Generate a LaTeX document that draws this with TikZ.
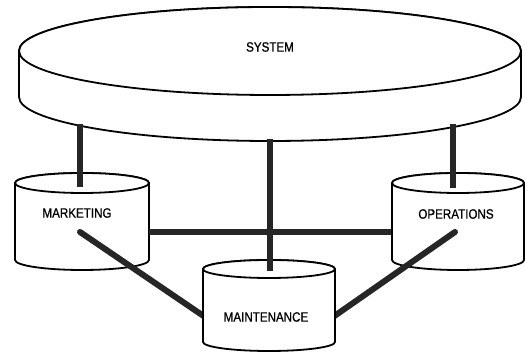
\documentclass[tikz,border=0pt]{standalone}
\usepackage{fontspec}
\newfontfamily\labelfont[FakeStretch=0.86, FakeBold=0.8]{Liberation Sans}
\tikzset{
	drum/.style={draw=black, line width=1.8pt, fill=white},
	link/.style={draw=black!85, line width=6pt},
	lbl/.style={font=\labelfont\fontsize{13.5}{14}\selectfont, inner sep=0pt},
}
% #1,#2 centre of the lid, #3,#4 radii, #5 depth
\newcommand{\drum}[5]{
	\path[drum] (#1-#3,#2) -- ++(0,-#5) arc[start angle=180, end angle=360, x radius=#3pt, y radius=#4pt] -- ++(0,#5) arc[start angle=0, end angle=180, x radius=#3pt, y radius=#4pt] -- cycle;
	\draw[drum] (#1,#2) ellipse[x radius=#3pt, y radius=#4pt];
}
\begin{document}
\begin{tikzpicture}[x=1pt, y=1pt]
	\useasboundingbox (0,0) rectangle (525,352);

	\drum{270}{301}{251}{44}{46}
	\drum{82}{169}{67}{10}{77}
	\drum{458}{169}{66}{10}{77}

	\coordinate (sys-l) at (80,228);
	\coordinate (sys-c) at (270,213);
	\coordinate (sys-r) at (453,228);
	\coordinate (mkt-in) at (80,165);
	\coordinate (mkt-side) at (149,120);
	\coordinate (mkt-low) at (80,120);
	\coordinate (ops-in) at (453,164);
	\coordinate (ops-side) at (391,120);
	\coordinate (ops-low) at (455,120);
	\coordinate (mnt-l) at (205,35);
	\coordinate (mnt-r) at (333,35);
	\coordinate (mnt-in) at (270,81);

	\draw[link, line cap=round] (mkt-low) -- (mnt-l);
	\draw[link, line cap=round] (ops-low) -- (mnt-r);

	\drum{269}{83}{66}{9}{73}

	\draw[link] (mkt-side) -- (ops-side);
	\draw[link] (sys-l) -- (mkt-in);
	\draw[link] (sys-r) -- (ops-in);
	\draw[link] (sys-c) -- (mnt-in);

	\node[lbl] (system) at (270,305) {SYSTEM};
	\node[lbl] (marketing) at (77,139) {MARKETING};
	\node[lbl] (operations) at (456,138) {OPERATIONS};
	\node[lbl] (maintenance) at (266,35) {MAINTENANCE};
\end{tikzpicture}
\end{document}
